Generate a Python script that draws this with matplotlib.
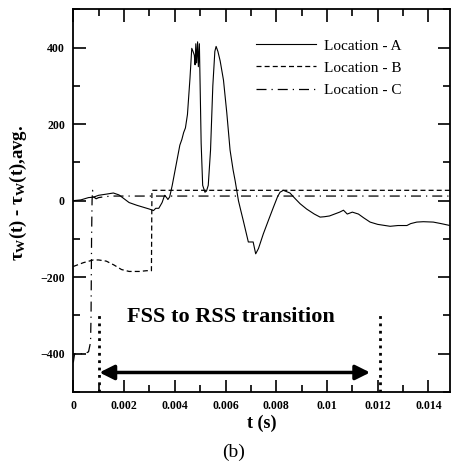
import matplotlib as mpl
mpl.use('Agg')
import matplotlib.pyplot as plt
from matplotlib.ticker import MultipleLocator, FixedLocator

plt.rcParams['font.family'] = ['Liberation Serif', 'DejaVu Serif']
plt.rcParams['mathtext.fontset'] = 'custom'
plt.rcParams['mathtext.rm'] = 'Liberation Serif:bold'
plt.rcParams['mathtext.it'] = 'Liberation Serif:bold'
plt.rcParams['mathtext.bf'] = 'Liberation Serif:bold'

# Location A (t in ms, value)
tA = [0, 0.3, 0.6, 0.79, 1.0, 1.3, 1.58, 1.8, 2.0, 2.2, 2.5, 2.8, 3.0, 3.16,
      3.25, 3.37, 3.5, 3.6, 3.68, 3.73, 3.8, 3.9, 4.0, 4.1, 4.2, 4.28, 4.35,
      4.42, 4.5, 4.6, 4.67, 4.72, 4.77, 4.8, 4.83, 4.86, 4.9, 4.93, 4.97, 5.0,
      5.04, 5.1, 5.19, 5.25, 5.32, 5.41, 5.5, 5.58, 5.63, 5.7, 5.79, 5.92,
      6.05, 6.18, 6.3, 6.38, 6.51, 6.6, 6.7, 6.8, 6.9, 7.09, 7.19, 7.3, 7.49,
      7.7, 7.89, 8.05, 8.15, 8.28, 8.54, 8.75, 8.94, 9.2, 9.5, 9.73, 9.9, 10.1,
      10.3, 10.5, 10.65, 10.8, 11.0, 11.24, 11.45, 11.7, 12.0, 12.49, 12.8,
      13.15, 13.3, 13.54, 13.8, 14.19, 14.5, 14.85]
vA = [0, 2, 8, 9, 14, 17, 20, 15, 5, -5, -12, -18, -22, -26,
      -20, -20, -5, 14, 8, 3, 10, 40, 75, 110, 145, 160, 178,
      190, 225, 320, 398, 390, 380, 355, 410, 360, 415, 350, 410, 300,
      150, 40, 22, 25, 40, 132, 300, 390, 403, 390, 365, 315,
      230, 132, 80, 52, 0, -25, -52, -80, -108, -108, -139, -125, -87,
      -50, -17, 10, 22, 27, 20, 5, -8, -22, -35, -43, -42, -40,
      -35, -30, -25, -35, -30, -35, -45, -56, -62, -67, -65,
      -65, -60, -56, -55, -56, -60, -65]

# Location B
tB = [0, 0.4, 0.79, 1.0, 1.3, 1.6, 1.9, 2.2, 2.6, 2.9, 3.08, 3.1, 14.85]
vB = [-172, -162, -155, -155, -158, -168, -180, -185, -185, -183, -183, 27, 27]

# Location C
tC = [0, 0.05, 0.45, 0.6, 0.68, 0.7, 0.72, 0.74, 0.76, 0.8, 0.9, 1.0, 1.2, 1.5, 14.85]
vC = [-423, -400, -400, -395, -370, -300, -100, 0, 27, 10, 5, 8, 10, 12, 12]

xticks = [0, 0.002, 0.004, 0.006, 0.008, 0.01, 0.012, 0.014]
xlabels = ['0', '0.002', '0.004', '0.006', '0.008', '0.01', '0.012', '0.014']
yticks = [-400, -200, 0, 200, 400]

transition = [0.001, 0.0121]

fig = plt.figure(figsize=(4.52, 4.66), dpi=100)
ax = fig.add_axes([73.3 / 452, 1 - 392 / 466, (450 - 73.3) / 452, (392 - 9.3) / 466])

ax.plot([t * 1e-3 for t in tA], vA, color='black', lw=0.8, label='Location - A')
ax.plot([t * 1e-3 for t in tB], vB, color='black', lw=0.9, dashes=(4, 2.5), label='Location - B')
ax.plot([t * 1e-3 for t in tC], vC, color='black', lw=0.9, dashes=(8, 4, 1, 4), label='Location - C')

ax.set_xlim(0, 0.01485)
ax.set_ylim(-500, 500)
ax.xaxis.set_major_locator(FixedLocator(xticks))
ax.set_xticklabels(xlabels)
ax.xaxis.set_minor_locator(MultipleLocator(0.001))
ax.yaxis.set_major_locator(FixedLocator(yticks))
ax.yaxis.set_minor_locator(MultipleLocator(100))
ax.tick_params(which='both', direction='in', top=True, right=True, width=1.2,
               labelsize=8.5, pad=6)
ax.tick_params(which='major', length=9)
ax.tick_params(which='minor', length=5)
for lab in ax.get_xticklabels() + ax.get_yticklabels():
    lab.set_fontweight('bold')
for s in ax.spines.values():
    s.set_linewidth(1.3)

# transition markers
for xt in transition:
    ax.plot([xt, xt], [-500, -300], color='black', lw=2, ls=':')
ax.annotate('', xy=(0.00103, -449), xytext=(0.0117, -449),
            arrowprops=dict(arrowstyle='<|-|>', color='black', lw=2.5,
                            mutation_scale=22, shrinkA=0, shrinkB=0))
ax.text(0.0062, -305, 'FSS to RSS transition', fontsize=16, fontweight='bold',
        ha='center', va='center')

ax.legend(loc='upper left', bbox_to_anchor=(256 / 452, 1 - 39 / 466),
          bbox_transform=fig.transFigure, frameon=False, fontsize=11,
          handlelength=3.9, handletextpad=0.55, labelspacing=0.55, borderpad=0,
          borderaxespad=0)

fig.text(262 / 452, 1 - 423 / 466, 't (s)', fontsize=13, fontweight='bold',
         ha='center', va='center')
fig.text(18 / 452, 1 - 193 / 466, r'$\tau_W$(t) - $\tau_W$(t),avg.', fontsize=13.5,
         fontweight='bold', rotation=90, ha='center', va='center')
fig.text(234 / 452, 1 - 452 / 466, '(b)', fontsize=14, ha='center', va='center')

fig.savefig('out.png', dpi=100)
